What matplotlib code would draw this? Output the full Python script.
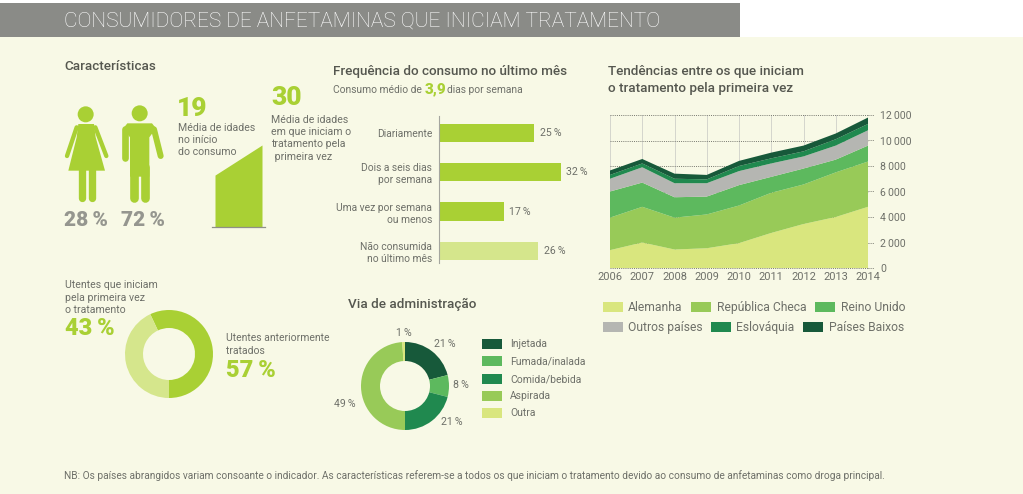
import matplotlib
matplotlib.use("Agg")
import matplotlib.pyplot as plt
from matplotlib.patches import Rectangle, Circle, Polygon

plt.rcParams['font.family'] = ['Roboto', 'DejaVu Sans']

W, H = 1023, 494
BG = '#f8f9e6'
GREEN = '#a9d034'
LIGHT = '#d5e68c'
TXT = '#6e7069'
DARK = '#55574f'

# stacked area
years = [2006, 2007, 2008, 2009, 2010, 2011, 2012, 2013, 2014]
alemanha = [1400, 2000, 1450, 1550, 1950, 2750, 3450, 4000, 4800]
rep_checa = [2550, 2800, 2500, 2650, 2950, 3150, 3100, 3500, 3550]
reino_unido = [2050, 1900, 1600, 1400, 1600, 1250, 1250, 1000, 1250]
outros = [1000, 1200, 1100, 1050, 1100, 1050, 950, 1100, 1200]
eslovaquia = [300, 300, 350, 300, 400, 400, 400, 500, 500]
paises_baixos = [350, 350, 400, 350, 400, 450, 450, 450, 500]
area_labels = ['Alemanha', 'República Checa', 'Reino Unido', 'Outros países', 'Eslováquia', 'Países Baixos']
area_colors = ['#d9e67e', '#98ca58', '#5db95e', '#b5b6b2', '#20894f', '#17593a']
y_ticks = [0, 2000, 4000, 6000, 8000, 10000, 12000]
y_tick_labels = ['0', '2\u2009000', '4\u2009000', '6\u2009000', '8\u2009000', '10\u2009000', '12\u2009000']

# frequency bars
freq_labels = ['Diariamente', 'Dois a seis dias\npor semana', 'Uma vez por semana\nou menos', 'Não consumida\nno último mês']
freq_values = [25, 32, 17, 26]

# donuts
treated_values = [57, 43]
route_labels = ['Injetada', 'Fumada/inalada', 'Comida/bebida', 'Aspirada', 'Outra']
route_values = [21, 8, 21, 49, 1]
route_colors = ['#17593a', '#5db95e', '#20894f', '#98ca58', '#d9e67e']

# ages
age_start = 19
age_treatment = 30


def px_axes(fig, left, top, right, bottom, **kw):
    # axes placed from pixel coords measured from the top left corner
    return fig.add_axes([left / W, 1 - bottom / H, (right - left) / W, (bottom - top) / H], **kw)


fig = plt.figure(figsize=(W / 100, H / 100), dpi=100, facecolor='white')

ov = fig.add_axes([0, 0, 1, 1], zorder=5)
ov.set_xlim(0, W)
ov.set_ylim(H, 0)
ov.axis('off')
ov.patch.set_alpha(0)

bg = fig.add_axes([0, 0, 1, 1], zorder=0)
bg.set_xlim(0, W)
bg.set_ylim(H, 0)
bg.axis('off')
bg.add_patch(Rectangle((0, 37), W, H - 37, color=BG, lw=0))
bg.add_patch(Rectangle((0, 3), 740, 34, color='#8a8b87', lw=0))


def txt(x, y, s, size=7.5, color=TXT, **kw):
    kw.setdefault('va', 'center')
    ov.text(x, y, s, fontsize=size, color=color, **kw)


txt(64, 21, 'CONSUMIDORES DE ANFETAMINAS QUE INICIAM TRATAMENTO', size=15.0, color='#ffffff', fontweight='light')
txt(64, 66.5, 'Características', size=9.7, color=DARK, fontweight='medium')
txt(333, 72, 'Frequência do consumo no último mês', size=9.7, color=DARK, fontweight='medium')
txt(608, 72, 'Tendências entre os que iniciam', size=9.7, color=DARK, fontweight='medium')
txt(608, 88.5, 'o tratamento pela primeira vez', size=9.7, color=DARK, fontweight='medium')
txt(348, 304.5, 'Via de administração', size=9.7, color=DARK, fontweight='medium')


# icons, in pixels of the overlay
def zp(x, y):
    return 50 + x / 3, 50 + y / 3


def limb(p0, p1, width):
    a, b = zp(*p0), zp(*p1)
    ov.plot([a[0], b[0]], [a[1], b[1]], color=GREEN, lw=width * 0.72 / 3, solid_capstyle='round')


ov.add_patch(Circle(zp(107, 193), 8, color=GREEN, lw=0))
ov.add_patch(Polygon([zp(*p) for p in [(85, 222), (132, 222), (137, 262), (165, 362), (55, 362), (80, 262)]], color=GREEN, lw=0))
limb((80, 232), (51, 318), 13)
limb((136, 232), (169, 318), 13)
limb((95, 360), (95, 443), 22)
limb((125, 360), (125, 443), 22)

ov.add_patch(Circle(zp(269, 190), 8, color=GREEN, lw=0))
ov.add_patch(Polygon([zp(*p) for p in [(232, 220), (306, 220), (318, 235), (298, 262), (298, 380), (240, 380), (240, 262), (220, 235)]], color=GREEN, lw=0))
limb((226, 238), (226, 325), 20)
limb((312, 238), (332, 318), 18)
limb((253, 350), (253, 443), 26)
limb((285, 350), (285, 443), 26)

txt(64, 220, '28\u2009%', size=15, color='#95968f', fontweight='heavy')
txt(121, 220, '72\u2009%', size=15, color='#95968f', fontweight='heavy')

txt(177, 109, str(age_start), size=19, color=GREEN, fontweight='heavy')
txt(178, 128, 'Média de idades', size=7.6)
txt(178, 140, 'no início', size=7.6)
txt(178, 152, 'do consumo', size=7.6)
txt(271, 98, str(age_treatment), size=19, color=GREEN, fontweight='heavy')
txt(271, 120, 'Média de idades', size=7.6)
txt(271, 132, 'em que iniciam o', size=7.6)
txt(271, 144, 'tratamento pela', size=7.6)
txt(272, 157, ' primeira vez', size=7.6)

# age wedge
ax_age = px_axes(fig, 215, 145, 262, 227, zorder=2)
ax_age.fill_between([age_start, age_treatment], [age_start, age_treatment], color=GREEN, lw=0)
ax_age.set_xlim(age_start, age_treatment)
ax_age.set_ylim(0, age_treatment)
ax_age.axis('off')
ov.plot([212, 265], [227, 227], color='#8f9088', lw=0.9)

# frequency
txt(333, 90, 'Consumo médio de', size=7.4)
txt(425, 89.5, '3,9', size=11, color=GREEN, fontweight='heavy')
txt(447, 90, 'dias por semana', size=7.4)

ax_f = px_axes(fig, 439, 116, 600, 263, zorder=2)
ax_f.patch.set_alpha(0)
freq_colors = [GREEN, GREEN, GREEN, LIGHT]
ax_f.barh(range(4), freq_values, height=0.46, color=freq_colors)
ax_f.set_ylim(3.31, -0.43)
ax_f.set_xlim(0, 161 / 3.8)
for s in ['top', 'right', 'bottom']:
    ax_f.spines[s].set_visible(False)
ax_f.spines['left'].set_color('#a5a69f')
ax_f.spines['left'].set_linewidth(0.8)
ax_f.set_xticks([])
ax_f.set_yticks(range(4))
ax_f.set_yticklabels(freq_labels, fontsize=7.4, color=TXT, ha='right', linespacing=1.25)
ax_f.tick_params(axis='y', length=0, pad=5)
for i, v in enumerate(freq_values):
    ax_f.text(v + 1.5, i, f'{v}\u2009%', fontsize=7.6, color=TXT, va='center')

# treated donut
ax_d = px_axes(fig, 169 - 46, 354 - 46, 169 + 46, 354 + 46, zorder=2)
ax_d.pie(treated_values, colors=[GREEN, LIGHT], startangle=-90, counterclock=True, radius=44 / 46,
         wedgeprops=dict(width=18 / 46, lw=0))
ax_d.set_xlim(-1, 1)
ax_d.set_ylim(-1, 1)

txt(65, 285, 'Utentes que iniciam', size=7.6)
txt(65, 298, 'pela primeira vez', size=7.6)
txt(65, 310, 'o tratamento', size=7.6)
txt(65, 328, '43\u2009%', size=17, color=GREEN, fontweight='heavy')
txt(226, 338, 'Utentes anteriormente', size=7.5)
txt(226, 351, 'tratados', size=7.5)
txt(226, 370, '57\u2009%', size=17, color=GREEN, fontweight='heavy')

# route donut
ax_r = px_axes(fig, 405 - 46, 386 - 46, 405 + 46, 386 + 46, zorder=2)
ax_r.pie(route_values, colors=route_colors, startangle=90, counterclock=False, radius=44 / 46,
         wedgeprops=dict(width=19 / 46, lw=0))
ax_r.set_xlim(-1, 1)
ax_r.set_ylim(-1, 1)

txt(396, 333, f'{route_values[4]}\u2009%', size=7.6)
txt(434, 344, f'{route_values[0]}\u2009%', size=7.6)
txt(453, 385, f'{route_values[1]}\u2009%', size=7.6)
txt(441, 422, f'{route_values[2]}\u2009%', size=7.6)
txt(334, 404, f'{route_values[3]}\u2009%', size=7.6)

route_y = [344, 361, 379, 396, 413]
for lab, col, y in zip(route_labels, route_colors, route_y):
    ov.add_patch(Rectangle((482, y - 5), 20, 10, color=col, lw=0))
    txt(510, y, lab, size=7.5)

# stacked area
ax = px_axes(fig, 610, 115, 868, 268, zorder=2)
ax.patch.set_alpha(0)
ax.set_axisbelow(True)
ax.stackplot(years, alemanha, rep_checa, reino_unido, outros, eslovaquia, paises_baixos,
             colors=area_colors, lw=0)
ax.set_xlim(2006, 2014)
ax.set_ylim(0, 12000)
ax.set_yticks(y_ticks)
ax.set_yticklabels(y_tick_labels, fontsize=7.6, color=TXT)
ax.yaxis.tick_right()
ax.set_xticks(years)
ax.set_xticklabels([str(y) for y in years], fontsize=7.9, color=TXT)
ax.tick_params(axis='x', length=0, pad=3)
ax.tick_params(axis='y', length=0, pad=9)
ax.grid(axis='y', color='#77786f', lw=0.7, ls=(0, (1, 1.2)), clip_on=False)
ax.grid(axis='x', color='#d4d5cd', lw=0.7)
for s in ax.spines.values():
    s.set_visible(False)
for y in y_ticks:
    ov.plot([868, 874], [268 - y * 153 / 12000] * 2, color='#77786f', lw=0.7, ls=(0, (1, 1.2)))

legend_pos = [(603, 307, 628), (691, 307, 717), (815, 307, 841),
              (603, 327, 628), (711, 327, 736), (803, 327, 829)]
for lab, col, (sx, sy, tx) in zip(area_labels, area_colors, legend_pos):
    ov.add_patch(Rectangle((sx, sy - 5), 20, 10, color=col, lw=0))
    txt(tx, sy, lab, size=8.75)

txt(64, 476, 'NB: Os países abrangidos variam consoante o indicador. As características referem-se a todos os que iniciam o tratamento devido ao consumo de anfetaminas como droga principal.', size=7.33)

fig.savefig('out.png', dpi=100, facecolor='white')
